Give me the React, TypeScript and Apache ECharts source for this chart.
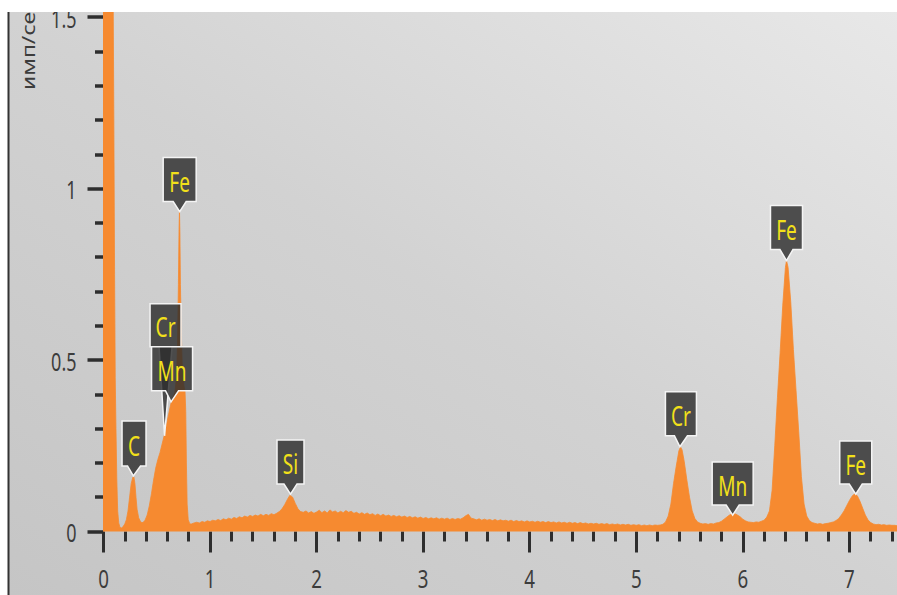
import React, { useEffect, useRef } from 'react';
import * as echarts from 'echarts';

// Energy (keV) and intensity (имп/сек)
const energies = [
  -0.015, 0.0, 0.03, 0.06, 0.09, 0.097, 0.104, 0.11, 0.117, 0.125, 0.133, 0.143, 0.155, 0.17, 0.185,
  0.2, 0.215, 0.23, 0.245, 0.26, 0.275, 0.285, 0.295, 0.305, 0.315, 0.33, 0.35, 0.37, 0.39, 0.41,
  0.43, 0.45, 0.47, 0.49, 0.51, 0.53, 0.55, 0.57, 0.59, 0.61, 0.63, 0.65, 0.67, 0.685, 0.695,
  0.703, 0.709, 0.713, 0.717, 0.722, 0.73, 0.74, 0.755, 0.765, 0.772, 0.778, 0.785, 0.795, 0.81,
  0.825, 0.85, 0.875, 0.9, 0.925, 0.95, 0.975, 1.0, 1.025, 1.05, 1.075, 1.1, 1.125, 1.15, 1.175,
  1.2, 1.225, 1.25, 1.275, 1.3, 1.325, 1.35, 1.375, 1.4, 1.425, 1.45, 1.475, 1.5, 1.525, 1.55,
  1.575, 1.6, 1.625, 1.65, 1.675, 1.7, 1.725, 1.75, 1.775, 1.8, 1.825, 1.85, 1.875, 1.9, 1.925,
  1.95, 1.975, 2.0, 2.025, 2.05, 2.075, 2.1, 2.125, 2.15, 2.175, 2.2, 2.225, 2.25, 2.275, 2.3,
  2.325, 2.35, 2.375, 2.4, 2.425, 2.45, 2.475, 2.5, 2.525, 2.55, 2.575, 2.6, 2.625, 2.65, 2.675,
  2.7, 2.725, 2.75, 2.775, 2.8, 2.825, 2.85, 2.875, 2.9, 2.925, 2.95, 2.975, 3.0, 3.025, 3.05,
  3.075, 3.1, 3.125, 3.15, 3.175, 3.2, 3.225, 3.25, 3.275, 3.3, 3.325, 3.35, 3.375, 3.4, 3.425,
  3.45, 3.475, 3.5, 3.525, 3.55, 3.575, 3.6, 3.625, 3.65, 3.675, 3.7, 3.725, 3.75, 3.775, 3.8,
  3.825, 3.85, 3.875, 3.9, 3.925, 3.95, 3.975, 4.0, 4.025, 4.05, 4.075, 4.1, 4.125, 4.15, 4.175,
  4.2, 4.225, 4.25, 4.275, 4.3, 4.325, 4.35, 4.375, 4.4, 4.425, 4.45, 4.475, 4.5, 4.525, 4.55,
  4.575, 4.6, 4.625, 4.65, 4.675, 4.7, 4.725, 4.75, 4.775, 4.8, 4.825, 4.85, 4.875, 4.9, 4.925,
  4.95, 4.975, 5.0, 5.025, 5.05, 5.075, 5.1, 5.125, 5.15, 5.175, 5.2, 5.225, 5.25, 5.275, 5.3,
  5.325, 5.35, 5.375, 5.4, 5.415, 5.43, 5.45, 5.475, 5.5, 5.525, 5.55, 5.575, 5.6, 5.625, 5.65,
  5.675, 5.7, 5.725, 5.75, 5.775, 5.8, 5.825, 5.85, 5.875, 5.9, 5.925, 5.95, 5.975, 6.0, 6.025,
  6.05, 6.075, 6.1, 6.125, 6.15, 6.175, 6.2, 6.225, 6.25, 6.275, 6.3, 6.325, 6.35, 6.375, 6.4,
  6.41, 6.425, 6.45, 6.475, 6.5, 6.525, 6.55, 6.575, 6.6, 6.625, 6.65, 6.675, 6.7, 6.725, 6.75,
  6.775, 6.8, 6.825, 6.85, 6.875, 6.9, 6.925, 6.95, 6.975, 7.0, 7.025, 7.05, 7.075, 7.1, 7.125,
  7.15, 7.175, 7.2, 7.225, 7.25, 7.275, 7.3, 7.325, 7.35, 7.375, 7.4, 7.425, 7.45,
];

const counts = [
  1.6, 1.6, 1.6, 1.6, 1.6, 1.2, 0.75, 0.45, 0.3, 0.15, 0.06, 0.025, 0.012, 0.01, 0.015,
  0.022, 0.035, 0.06, 0.1, 0.14, 0.158, 0.16, 0.14, 0.1, 0.065, 0.04, 0.027, 0.026, 0.033, 0.048,
  0.075, 0.11, 0.15, 0.185, 0.21, 0.23, 0.255, 0.28, 0.31, 0.34, 0.37, 0.39, 0.405, 0.45, 0.55,
  0.72, 0.88, 0.935, 0.87, 0.72, 0.58, 0.47, 0.425, 0.41, 0.35, 0.2, 0.08, 0.035, 0.022,
  0.022, 0.025, 0.027, 0.025, 0.029, 0.027, 0.031, 0.029, 0.033, 0.031, 0.035, 0.032, 0.037, 0.034, 0.039,
  0.036, 0.041, 0.038, 0.043, 0.04, 0.045, 0.042, 0.047, 0.044, 0.048, 0.045, 0.05, 0.046, 0.05, 0.047,
  0.052, 0.049, 0.053, 0.058, 0.066, 0.078, 0.093, 0.106, 0.1, 0.082, 0.066, 0.058, 0.056, 0.06, 0.054,
  0.058, 0.053, 0.057, 0.062, 0.055, 0.06, 0.054, 0.063, 0.057, 0.06, 0.054, 0.059, 0.055, 0.061, 0.056,
  0.059, 0.053, 0.056, 0.051, 0.055, 0.05, 0.054, 0.049, 0.052, 0.047, 0.051, 0.046, 0.05, 0.045, 0.048,
  0.044, 0.047, 0.043, 0.046, 0.042, 0.045, 0.041, 0.044, 0.04, 0.043, 0.039, 0.042, 0.038, 0.041, 0.037,
  0.04, 0.037, 0.04, 0.036, 0.039, 0.036, 0.039, 0.035, 0.038, 0.035, 0.038, 0.036, 0.04, 0.046, 0.05,
  0.039, 0.037, 0.034, 0.037, 0.033, 0.036, 0.033, 0.035, 0.032, 0.035, 0.031, 0.034, 0.031, 0.033, 0.03,
  0.033, 0.029, 0.032, 0.029, 0.031, 0.028, 0.031, 0.028, 0.03, 0.027, 0.03, 0.027, 0.029, 0.026, 0.029,
  0.026, 0.028, 0.025, 0.028, 0.025, 0.027, 0.024, 0.027, 0.024, 0.026, 0.023, 0.026, 0.023, 0.025, 0.022,
  0.024, 0.022, 0.024, 0.021, 0.023, 0.021, 0.023, 0.02, 0.022, 0.02, 0.022, 0.019, 0.021, 0.019, 0.021,
  0.018, 0.02, 0.018, 0.02, 0.017, 0.019, 0.017, 0.019, 0.017, 0.019, 0.018, 0.019, 0.021, 0.028, 0.045,
  0.08, 0.14, 0.19, 0.235, 0.247, 0.238, 0.205, 0.15, 0.1, 0.06, 0.038, 0.028, 0.024, 0.022, 0.023,
  0.021, 0.023, 0.022, 0.025, 0.026, 0.03, 0.036, 0.042, 0.048, 0.051, 0.052, 0.048, 0.043, 0.036, 0.031,
  0.028, 0.027, 0.026, 0.028, 0.027, 0.03, 0.033, 0.042, 0.06, 0.12, 0.25, 0.39, 0.52, 0.66, 0.77,
  0.79, 0.77, 0.67, 0.53, 0.41, 0.29, 0.16, 0.08, 0.045, 0.032, 0.026, 0.024, 0.022, 0.023, 0.021,
  0.023, 0.024, 0.026, 0.028, 0.032, 0.038, 0.048, 0.06, 0.075, 0.09, 0.103, 0.11, 0.104, 0.088, 0.068,
  0.048, 0.034, 0.026, 0.022, 0.02, 0.021, 0.019, 0.02, 0.018, 0.019, 0.018, 0.018, 0.017,
];

// Tick labels
const xTickValues = [0, 1, 2, 3, 4, 5, 6, 7];
const yTickValues = [0, 0.5, 1, 1.5];

// Peak identification labels
const peakNames = ['C', 'Cr', 'Mn', 'Fe', 'Si', 'Cr', 'Mn', 'Fe', 'Fe'];
const peakEnergies = [0.28, 0.573, 0.634, 0.715, 1.755, 5.41, 5.905, 6.41, 7.06];
const peakCounts = [0.162, 0.279, 0.378, 0.933, 0.109, 0.247, 0.048, 0.79, 0.109];

const yAxisTitle = 'имп/сек';

// Callout styling (px)
const calloutWidths = [24, 31, 41, 33, 27, 31, 41, 32, 32];
const calloutHeights = [45, 43, 44, 44, 44, 44, 43, 44, 43];
const pointerLengths = [10, 89, 11, 10, 10, 11, 10, 11, 10];
const calloutShifts = [0.7, 1, 1, 0, 0, 1, 0, 0, 0];

const ORANGE = '#f68a30';
const FONT = "'Noto Sans', sans-serif";
const SQUEEZE = 0.72;

export default function App() {
  const ref = useRef<HTMLDivElement>(null);

  useEffect(() => {
    if (!ref.current) return;
    const chart = echarts.init(ref.current, null, { renderer: 'svg' });
    const W = 897;
    const H = 583;

    const option: any = {
      animation: false,
      grid: {
        left: 103.5,
        right: -58.9,
        top: -166.35,
        bottom: 63.5,
        containLabel: false,
        outerBoundsMode: 'none',
      },
      graphic: [
        {
          type: 'rect',
          z: -10,
          silent: true,
          shape: { x: 9, y: 0, width: W - 9, height: H },
          style: {
            fill: new echarts.graphic.LinearGradient(1, 0, 0, 1, [
              { offset: 0, color: '#e8e8e8' },
              { offset: 0.5, color: '#d2d2d2' },
              { offset: 1, color: '#c5c5c5' },
            ]),
          },
        },
        {
          type: 'line',
          z: -5,
          silent: true,
          shape: { x1: 8.5, y1: 0, x2: 8.5, y2: H },
          style: { stroke: '#333', lineWidth: 2 },
        },
        {
          type: 'text',
          z: 5,
          silent: true,
          x: 28,
          y: 78,
          rotation: Math.PI / 2,
          scaleY: 0.8,
          style: {
            text: yAxisTitle,
            fontSize: 23,
            fontFamily: FONT,
            fill: '#3c3c3c',
            align: 'left',
            verticalAlign: 'middle',
          },
        },
      ],
      xAxis: {
        type: 'value',
        min: 0,
        max: 8,
        interval: 1,
        offset: 5.5,
        axisLine: { show: false },
        splitLine: { show: false },
        axisTick: { show: true, length: 21, lineStyle: { color: '#2e2e2e', width: 3 } },
        minorTick: { show: true, splitNumber: 5, length: 10, lineStyle: { color: '#2e2e2e', width: 3 } },
        axisLabel: { show: false },
      },
      yAxis: {
        type: 'value',
        min: 0,
        max: 2,
        interval: 0.5,
        offset: 5.5,
        axisLine: { show: false },
        splitLine: { show: false },
        axisTick: { show: true, length: 16, lineStyle: { color: '#2e2e2e', width: 3.5 } },
        minorTick: { show: true, splitNumber: 5, length: 8.5, lineStyle: { color: '#2e2e2e', width: 3.5 } },
        axisLabel: { show: false },
      },
      series: [
        {
          type: 'line',
          data: energies.map((e, i) => [e, counts[i]]),
          symbol: 'none',
          clip: false,
          z: 2,
          lineStyle: { color: ORANGE, width: 0.8 },
          areaStyle: { color: ORANGE, opacity: 1 },
          silent: true,
        },
        {
          // x tick labels, placed through the axis scale
          type: 'custom',
          coordinateSystem: 'cartesian2d',
          data: xTickValues.map((v) => [v, 0]),
          encode: { x: 0, y: 1 },
          clip: false,
          z: 5,
          silent: true,
          renderItem: (params: any, api: any) => {
            const p = api.coord([api.value(0), api.value(1)]);
            return {
              type: 'text',
              x: p[0],
              y: p[1] + 46.5,
              scaleX: SQUEEZE,
              style: {
                text: String(xTickValues[params.dataIndex]),
                fill: '#3c3c3c',
                fontSize: 26,
                fontFamily: FONT,
                align: 'center',
                verticalAlign: 'middle',
              },
            };
          },
        },
        {
          // y tick labels
          type: 'custom',
          coordinateSystem: 'cartesian2d',
          data: yTickValues.map((v) => [0, v]),
          encode: { x: 0, y: 1 },
          clip: false,
          z: 5,
          silent: true,
          renderItem: (params: any, api: any) => {
            const p = api.coord([api.value(0), api.value(1)]);
            return {
              type: 'text',
              x: p[0] - 27,
              y: p[1] + 1,
              scaleX: SQUEEZE,
              style: {
                text: String(yTickValues[params.dataIndex]),
                fill: '#3c3c3c',
                fontSize: 25,
                fontFamily: FONT,
                align: 'right',
                verticalAlign: 'middle',
              },
            };
          },
        },
        {
          type: 'custom',
          coordinateSystem: 'cartesian2d',
          data: peakEnergies.map((e, i) => [e, peakCounts[i]]),
          encode: { x: 0, y: 1 },
          clip: false,
          z: 10,
          silent: true,
          renderItem: (params: any, api: any) => {
            const i = params.dataIndex;
            const p = api.coord([api.value(0), api.value(1)]);
            const tx = p[0];
            const ty = p[1];
            const w = calloutWidths[i];
            const cx = tx + calloutShifts[i];
            const bottom = ty - pointerLengths[i];
            const top = bottom - calloutHeights[i];
            const hb = 6.5;
            return {
              type: 'group',
              children: [
                {
                  type: 'polygon',
                  shape: {
                    points: [
                      [cx - w / 2, top],
                      [cx + w / 2, top],
                      [cx + w / 2, bottom],
                      [cx + hb, bottom],
                      [tx, ty],
                      [cx - hb, bottom],
                      [cx - w / 2, bottom],
                    ],
                  },
                  style: { fill: 'rgba(45,45,45,0.82)', stroke: '#f4f4f4', lineWidth: 1.5 },
                },
                {
                  type: 'text',
                  x: cx,
                  y: (top + bottom) / 2 + 1,
                  scaleX: 0.68,
                  style: {
                    text: peakNames[i],
                    fill: '#f2e01a',
                    fontSize: 28,
                    fontFamily: FONT,
                    align: 'center',
                    verticalAlign: 'middle',
                  },
                },
              ],
            };
          },
        },
      ],
    };

    chart.setOption(option);
    return () => chart.dispose();
  }, []);

  return (
    <div
      ref={ref}
      style={{ position: 'absolute', left: 0, top: 12, width: 897, height: 583 }}
    />
  );
}
